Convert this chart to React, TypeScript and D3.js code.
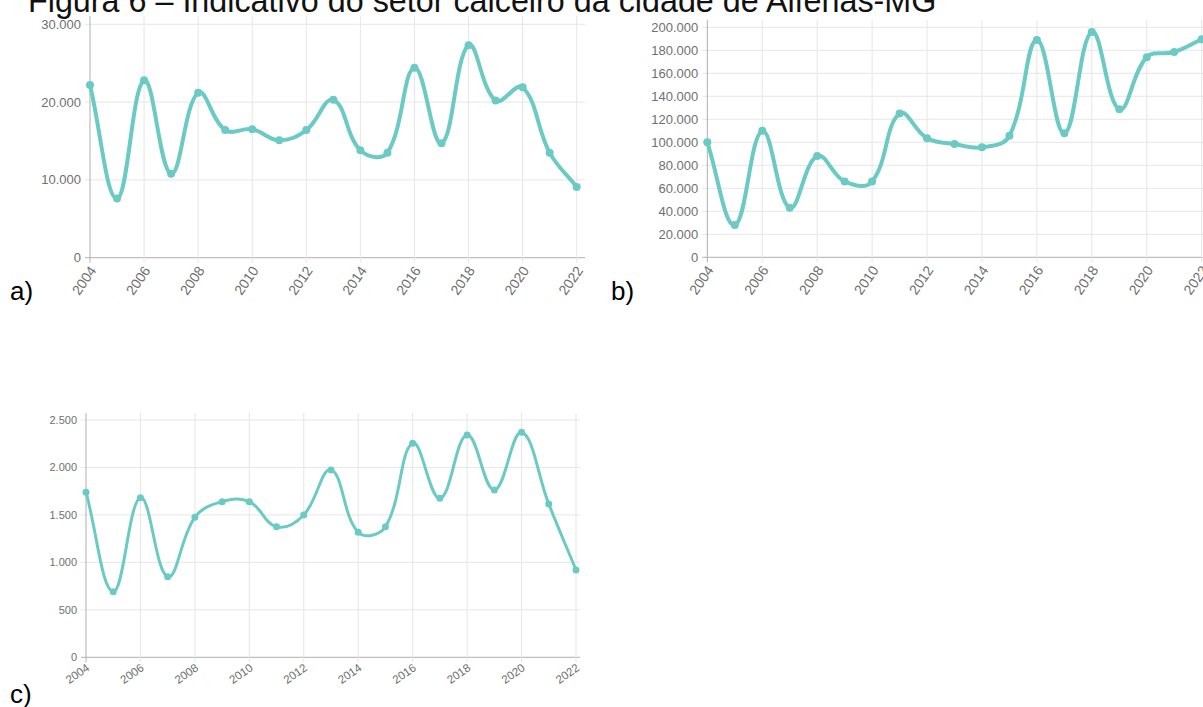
import React from "react";
import * as d3 from "d3";

const years = [2004, 2005, 2006, 2007, 2008, 2009, 2010, 2011, 2012, 2013, 2014, 2015, 2016, 2017, 2018, 2019, 2020, 2021, 2022];
const labelYears = [2004, 2006, 2008, 2010, 2012, 2014, 2016, 2018, 2020, 2022];

const seriesA = [22200, 7600, 22800, 10800, 21200, 16400, 16500, 15100, 16400, 20300, 13800, 13500, 24400, 14700, 27300, 20200, 21900, 13500, 9100];
const seriesB = [100000, 28000, 110000, 43000, 88000, 66000, 66000, 125000, 103500, 98500, 95600, 105700, 189000, 107800, 196000, 128700, 174000, 178500, 189600];
const seriesC = [1740, 691, 1682, 849, 1475, 1640, 1640, 1376, 1500, 1974, 1317, 1376, 2255, 1675, 2342, 1763, 2371, 1615, 920];

const ticksA = [0, 10000, 20000, 30000];
const ticksB = [0, 20000, 40000, 60000, 80000, 100000, 120000, 140000, 160000, 180000, 200000];
const ticksC = [0, 500, 1000, 1500, 2000, 2500];

const titleText = "Figura 6 – Indicativo do setor calceiro da cidade de Alfenas-MG";

const ptBR = d3.formatLocale({ decimal: ",", thousands: ".", grouping: [3], currency: ["R$", ""] });
const fmt = ptBR.format(",d");

const LINE = "#6ccac5";
const GRID = "#e6e6e6";
const AXIS = "#b0b0b0";
const TICK_TEXT = "#707070";
const FONT = "'Liberation Sans', Arial, Helvetica, sans-serif";

type P = { x: number; y: number };

// Chart.js-style spline (tension 0.4)
function splinePath(pts: P[], tension = 0.4): string {
  const p = d3.path();
  const cps = pts.map((cur, i) => {
    const prev = pts[i - 1] || cur;
    const next = pts[i + 1] || cur;
    const d01 = Math.hypot(cur.x - prev.x, cur.y - prev.y);
    const d12 = Math.hypot(next.x - cur.x, next.y - cur.y);
    let s01 = d01 / (d01 + d12);
    let s12 = d12 / (d01 + d12);
    if (isNaN(s01)) s01 = 0;
    if (isNaN(s12)) s12 = 0;
    const fa = tension * s01;
    const fb = tension * s12;
    return {
      prev: { x: cur.x - fa * (next.x - prev.x), y: cur.y - fa * (next.y - prev.y) },
      next: { x: cur.x + fb * (next.x - prev.x), y: cur.y + fb * (next.y - prev.y) },
    };
  });
  pts.forEach((pt, i) => {
    if (i === 0) p.moveTo(pt.x, pt.y);
    else {
      const c1 = cps[i - 1].next;
      const c2 = cps[i].prev;
      p.bezierCurveTo(c1.x, c1.y, c2.x, c2.y, pt.x, pt.y);
    }
  });
  return p.toString();
}

type PanelProps = {
  values: number[];
  ticks: number[];
  xFirst: number;
  xLast: number;
  right: number;
  top: number;
  zeroY: number;
  maxY: number;
  fontSize: number;
  xFontSize: number;
  rotate: number;
  lineWidth: number;
  radius: number;
  labelDX: number;
  labelDY: number;
};

function Panel(props: PanelProps) {
  const { values, ticks, xFirst, xLast, right, top, zeroY, maxY, fontSize, xFontSize, rotate, lineWidth, radius, labelDX, labelDY } = props;
  const x = d3.scaleLinear().domain([years[0], years[years.length - 1]]).range([xFirst, xLast]);
  const y = d3.scaleLinear().domain([0, ticks[ticks.length - 1]]).range([zeroY, maxY]);
  const pts = years.map((yr, i) => ({ x: x(yr), y: y(values[i]) }));
  return (
    <g>
      {ticks.map((t) => (
        <g key={"h" + t}>
          <line x1={xFirst - 5} x2={right} y1={y(t)} y2={y(t)} stroke={t === 0 ? AXIS : GRID} strokeWidth={1} />
          <text x={xFirst - 9} y={y(t)} dy="0.35em" textAnchor="end" fontSize={fontSize} fill={TICK_TEXT} fontFamily={FONT}>
            {fmt(t)}
          </text>
        </g>
      ))}
      {labelYears.map((yr) => (
        <g key={"v" + yr}>
          <line x1={x(yr)} x2={x(yr)} y1={top} y2={zeroY + 5} stroke={yr === years[0] ? AXIS : GRID} strokeWidth={1} />
          <text
            transform={`translate(${x(yr) + labelDX},${zeroY + labelDY}) rotate(${-rotate})`}
            dy="0.35em"
            textAnchor="end"
            fontSize={xFontSize}
            fill={TICK_TEXT}
            fontFamily={FONT}
          >
            {yr}
          </text>
        </g>
      ))}
      <path d={splinePath(pts)} fill="none" stroke={LINE} strokeWidth={lineWidth} />
      {pts.map((pt, i) => (
        <circle key={"p" + i} cx={pt.x} cy={pt.y} r={radius} fill={LINE} />
      ))}
    </g>
  );
}

export default function App() {
  return (
    <div style={{ position: "absolute", left: 0, top: 0 }}>
      <svg width={1203} height={707} style={{ display: "block", background: "#fff" }}>
        <text x={28} y={12} fontSize={32.3} fontFamily={FONT} fill="#111">
          {titleText}
        </text>
        <Panel values={seriesA} ticks={ticksA} xFirst={90} xLast={576.7} right={585} top={16} zeroY={257.7} maxY={24.3}
          fontSize={13} xFontSize={14} rotate={55} lineWidth={4} radius={4} labelDX={3} labelDY={10} />
        <Panel values={seriesB} ticks={ticksB} xFirst={707.3} xLast={1201.7} right={1210} top={20} zeroY={257.3} maxY={27.3}
          fontSize={13} xFontSize={14} rotate={55} lineWidth={4} radius={4} labelDX={3} labelDY={10} />
        <Panel values={seriesC} ticks={ticksC} xFirst={86} xLast={576} right={580} top={413} zeroY={657.3} maxY={420}
          fontSize={11} xFontSize={11.5} rotate={35} lineWidth={3} radius={3.5} labelDX={2} labelDY={9} />
        <text x={10} y={300} fontSize={26} fontFamily={FONT} fill="#000">a)</text>
        <text x={611} y={300} fontSize={26} fontFamily={FONT} fill="#000">b)</text>
        <text x={10} y={703} fontSize={26} fontFamily={FONT} fill="#000">c)</text>
      </svg>
    </div>
  );
}
